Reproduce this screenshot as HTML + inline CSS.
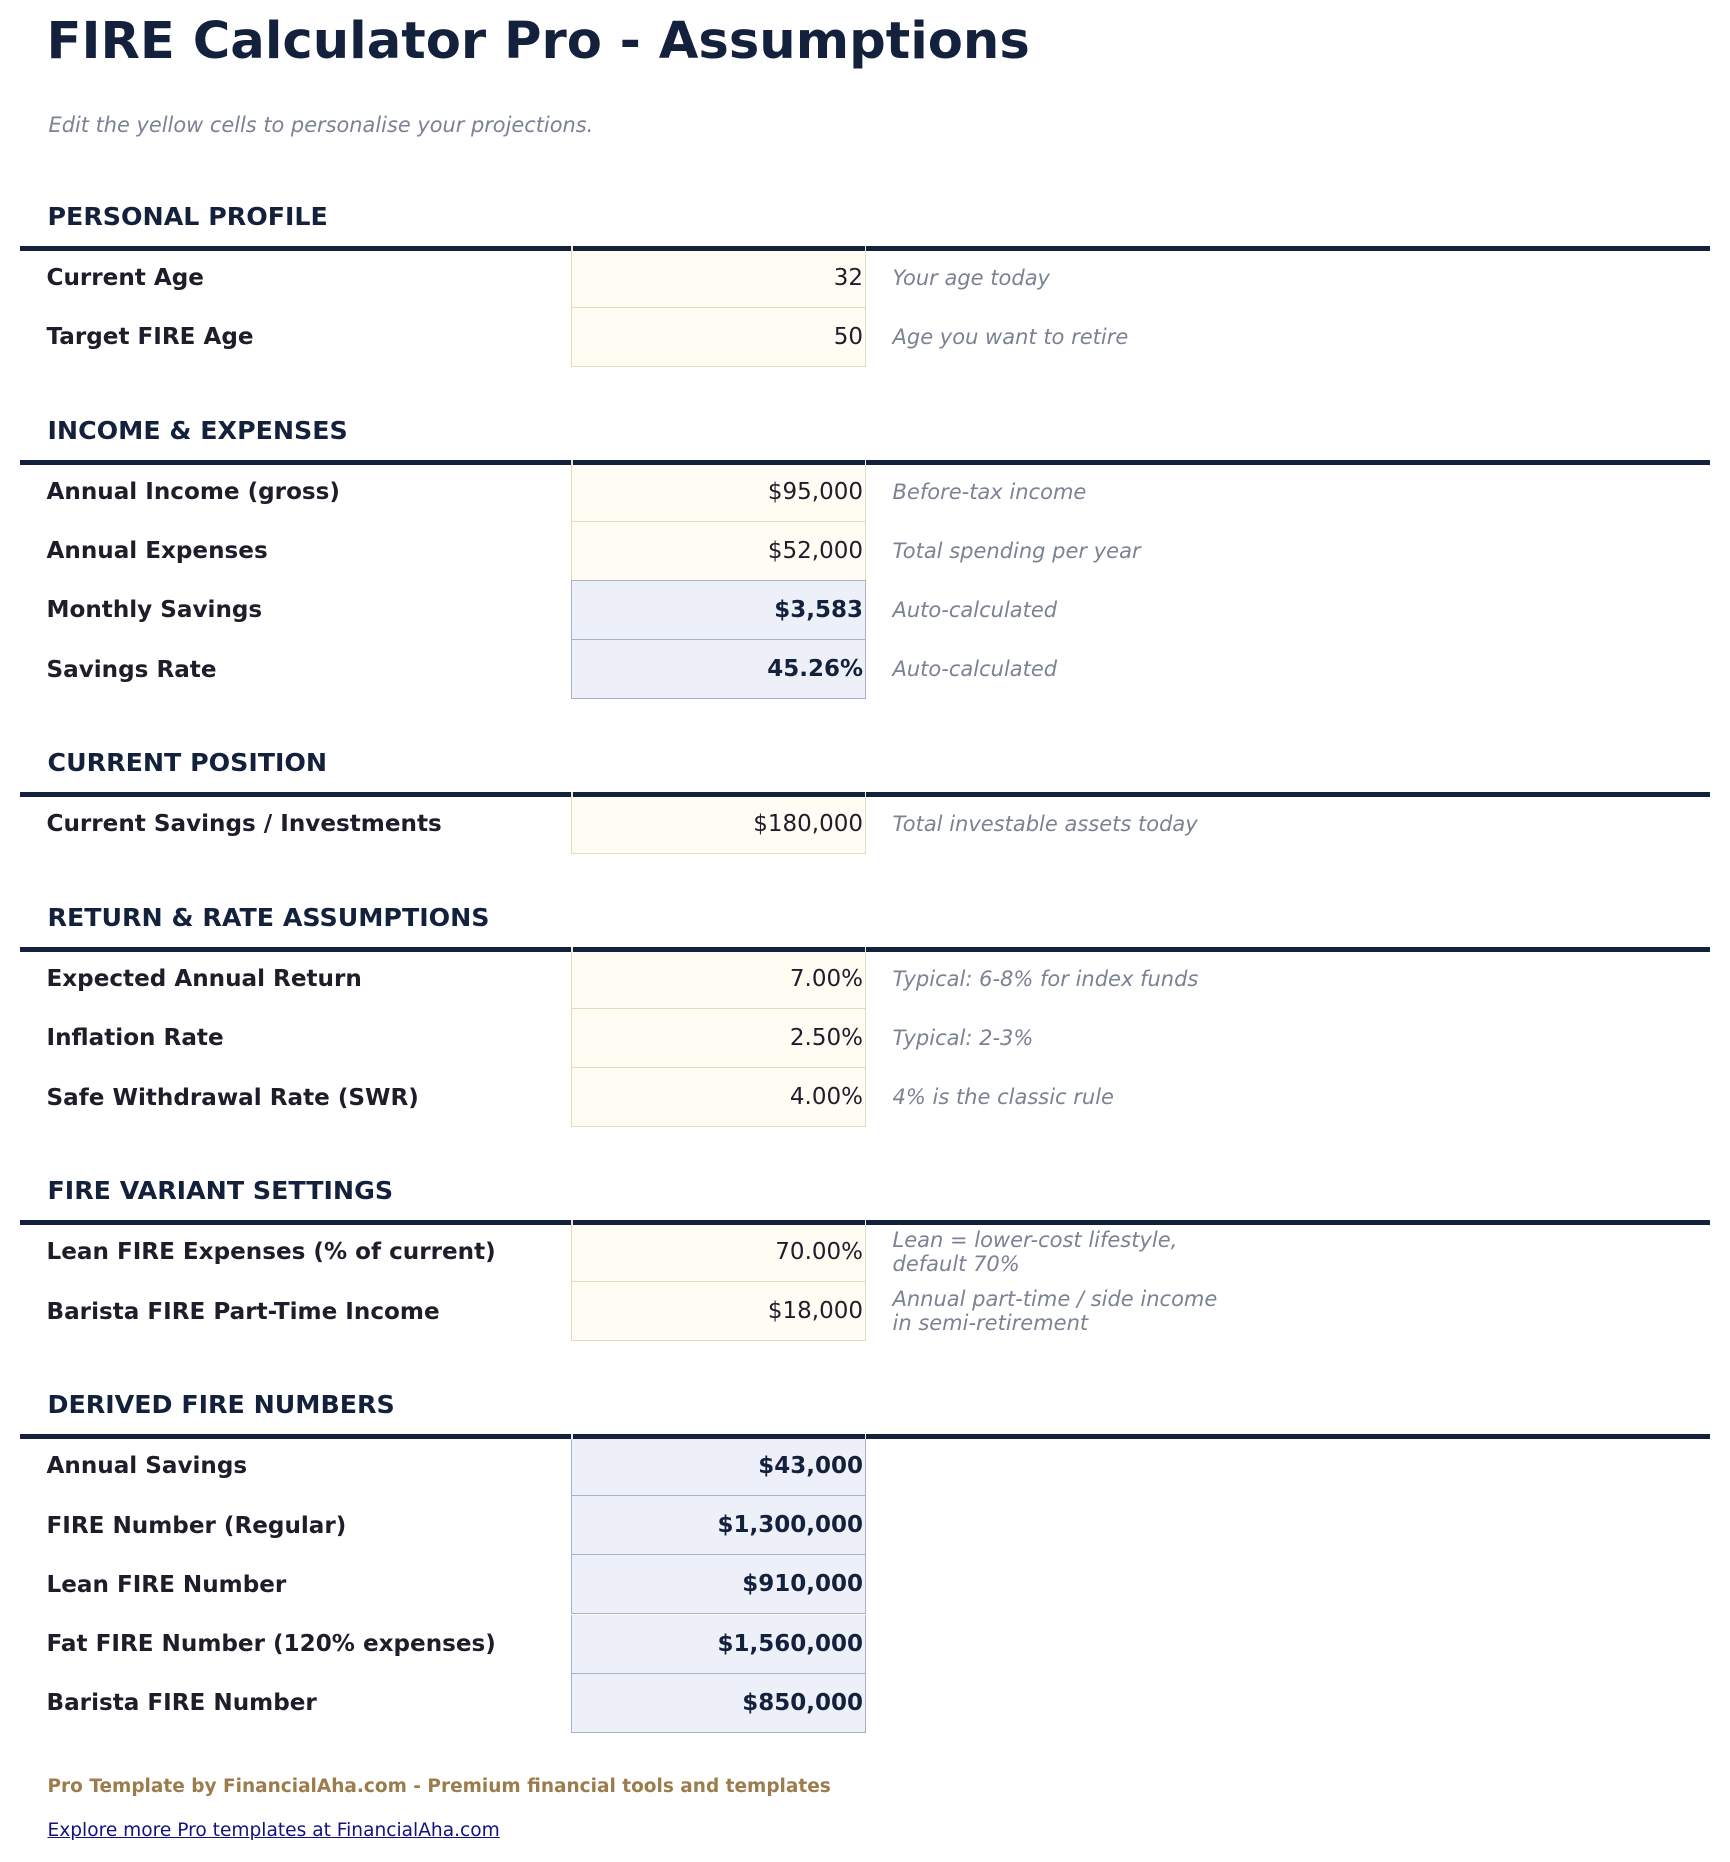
<!DOCTYPE html>
<html>
<head>
<meta charset="utf-8">
<style>
  html, body { margin:0; padding:0; background:#ffffff; }
  body { width:1730px; height:1862px; position:relative; overflow:hidden;
         font-family:"DejaVu Sans","Liberation Sans",sans-serif; }
  .a { position:absolute; white-space:nowrap; }
  .title { left:46.5px; top:12.4px; font-size:51.2px; line-height:1.164; font-weight:bold; color:#14213d; }
  .sub { left:48.5px; top:113.3px; font-size:20.9px; line-height:1.164; font-style:italic; color:#7b8294; }
  .hd { position:absolute; left:47.5px; font-size:25.3px; line-height:1.164; font-weight:bold; color:#14213d; white-space:nowrap; }
  .line { position:absolute; left:20px; width:1690px; height:5px; background:#14213d; z-index:3; }
  .gapL { position:absolute; left:571px; width:1.5px; height:5px; background:#ece5cf; z-index:4; }
  .gapR { position:absolute; left:865px; width:1px; height:5px; background:#ffffff; z-index:4; }
  .row { position:absolute; left:0; width:1730px; height:59.2px; line-height:59.2px; }
  .lbl { position:absolute; left:46.5px; top:0.5px; font-size:23.1px; font-weight:bold; color:#1e1e2b; white-space:nowrap; }
  .val { position:absolute; left:571px; top:0; width:295px; height:59.2px; box-sizing:border-box;
         border-left:1.5px solid #e4dbbd; border-right:1.5px solid #e4dbbd; border-bottom:1.5px solid #e4dbbd;
         background:#fffcf3; text-align:right; padding-right:2px; font-size:23px; color:#1e1e2b; white-space:nowrap; }
  .val.calc { background:#edf0f8; border-color:#a9b1c9; font-weight:bold; color:#14213d; }
  .cmt { position:absolute; left:892.5px; top:0; font-size:21px; font-style:italic; color:#7b8294; white-space:nowrap; }
  .cmt2 { position:absolute; left:892.5px; top:5px; font-size:21px; line-height:24px; font-style:italic; color:#7b8294; white-space:nowrap; }
  .foot { left:47.5px; top:1776.3px; font-size:18.5px; line-height:1.164; font-weight:bold; color:#9c7c4c; }
  .link { left:47.5px; top:1820px; font-size:18.6px; line-height:1.164; color:#12127f; text-decoration:underline; }
</style>
</head>
<body>

<div class="a title">FIRE Calculator Pro - Assumptions</div>
<div class="a sub">Edit the yellow cells to personalise your projections.</div>

<!-- SECTION 1 -->
<div class="hd" style="top:202px;">PERSONAL PROFILE</div>
<div class="line" style="top:246px;"></div>
<div class="gapL" style="top:246px;"></div><div class="gapR" style="top:246px;"></div>
<div class="row" style="top:248.5px;"><div class="lbl">Current Age</div><div class="val">32</div><div class="cmt">Your age today</div></div>
<div class="row" style="top:307.7px;"><div class="lbl">Target FIRE Age</div><div class="val">50</div><div class="cmt">Age you want to retire</div></div>

<!-- SECTION 2 -->
<div class="hd" style="top:416px;">INCOME &amp; EXPENSES</div>
<div class="line" style="top:460px;"></div>
<div class="gapL" style="top:460px;"></div><div class="gapR" style="top:460px;"></div>
<div class="row" style="top:462.5px;"><div class="lbl">Annual Income (gross)</div><div class="val">$95,000</div><div class="cmt">Before-tax income</div></div>
<div class="row" style="top:521.7px;"><div class="lbl">Annual Expenses</div><div class="val">$52,000</div><div class="cmt">Total spending per year</div></div>
<div class="row" style="top:580.9px;"><div class="lbl">Monthly Savings</div><div class="val calc" style="border-top:1.5px solid #a9b1c9; height:60.2px; margin-top:-1px;">$3,583</div><div class="cmt">Auto-calculated</div></div>
<div class="row" style="top:640.1px;"><div class="lbl">Savings Rate</div><div class="val calc">45.26%</div><div class="cmt">Auto-calculated</div></div>

<!-- SECTION 3 -->
<div class="hd" style="top:748.4px;">CURRENT POSITION</div>
<div class="line" style="top:792.4px;"></div>
<div class="gapL" style="top:792.4px;"></div><div class="gapR" style="top:792.4px;"></div>
<div class="row" style="top:794.9px;"><div class="lbl">Current Savings / Investments</div><div class="val">$180,000</div><div class="cmt">Total investable assets today</div></div>

<!-- SECTION 4 -->
<div class="hd" style="top:903.2px;">RETURN &amp; RATE ASSUMPTIONS</div>
<div class="line" style="top:947.2px;"></div>
<div class="gapL" style="top:947.2px;"></div><div class="gapR" style="top:947.2px;"></div>
<div class="row" style="top:949.7px;"><div class="lbl">Expected Annual Return</div><div class="val">7.00%</div><div class="cmt">Typical: 6-8% for index funds</div></div>
<div class="row" style="top:1008.9px;"><div class="lbl">Inflation Rate</div><div class="val">2.50%</div><div class="cmt">Typical: 2-3%</div></div>
<div class="row" style="top:1068.1px;"><div class="lbl">Safe Withdrawal Rate (SWR)</div><div class="val">4.00%</div><div class="cmt">4% is the classic rule</div></div>

<!-- SECTION 5 -->
<div class="hd" style="top:1176.4px;">FIRE VARIANT SETTINGS</div>
<div class="line" style="top:1220.4px;"></div>
<div class="gapL" style="top:1220.4px;"></div><div class="gapR" style="top:1220.4px;"></div>
<div class="row" style="top:1222.9px;"><div class="lbl">Lean FIRE Expenses (% of current)</div><div class="val">70.00%</div><div class="cmt2">Lean = lower-cost lifestyle,<br>default 70%</div></div>
<div class="row" style="top:1282.1px;"><div class="lbl">Barista FIRE Part-Time Income</div><div class="val">$18,000</div><div class="cmt2" style="top:4.5px;">Annual part-time / side income<br>in semi-retirement</div></div>

<!-- SECTION 6 -->
<div class="hd" style="top:1390.4px;">DERIVED FIRE NUMBERS</div>
<div class="line" style="top:1434.4px;"></div>
<div class="gapL" style="top:1434.4px; background:#e6e9f2;"></div><div class="gapR" style="top:1434.4px;"></div>
<div class="row" style="top:1436.9px;"><div class="lbl">Annual Savings</div><div class="val calc">$43,000</div></div>
<div class="row" style="top:1496.1px;"><div class="lbl">FIRE Number (Regular)</div><div class="val calc">$1,300,000</div></div>
<div class="row" style="top:1555.3px;"><div class="lbl">Lean FIRE Number</div><div class="val calc">$910,000</div></div>
<div class="row" style="top:1614.5px;"><div class="lbl">Fat FIRE Number (120% expenses)</div><div class="val calc">$1,560,000</div></div>
<div class="row" style="top:1673.7px;"><div class="lbl">Barista FIRE Number</div><div class="val calc">$850,000</div></div>

<div class="a foot">Pro Template by FinancialAha.com - Premium financial tools and templates</div>
<div class="a link">Explore more Pro templates at FinancialAha.com</div>

</body>
</html>
